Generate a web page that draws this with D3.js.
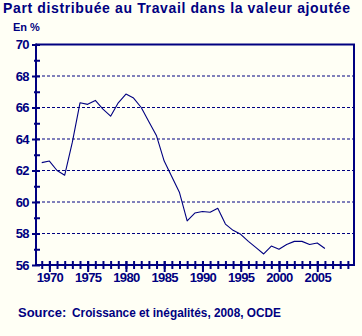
<!DOCTYPE html>
<html>
<head>
<meta charset="utf-8">
<script src="https://cdn.jsdelivr.net/npm/d3@7"></script>
<style>
  html, body { margin: 0; padding: 0; background: #fffff5; }
  svg { display: block; }
  text { font-family: "Liberation Sans", Arial, sans-serif; font-weight: bold; fill: #000080; }
</style>
</head>
<body>
<svg id="chart" width="362" height="336"></svg>
<script>
// Labour share of value added, in percent
const years = [1969, 1970, 1971, 1972, 1973, 1974, 1975, 1976, 1977, 1978,
               1979, 1980, 1981, 1982, 1983, 1984, 1985, 1986, 1987, 1988,
               1989, 1990, 1991, 1992, 1993, 1994, 1995, 1996, 1997, 1998,
               1999, 2000, 2001, 2002, 2003, 2004, 2005, 2006];
const share = [62.5, 62.6, 62.0, 61.7, 63.8, 66.3, 66.2, 66.45, 65.9, 65.45,
               66.3, 66.85, 66.6, 66.0, 65.1, 64.2, 62.6, 61.6, 60.6, 58.8,
               59.3, 59.4, 59.35, 59.6, 58.6, 58.2, 57.95, 57.5, 57.1, 56.7,
               57.2, 57.0, 57.3, 57.5, 57.5, 57.3, 57.4, 57.05];

const yMajorTicks = [56, 58, 60, 62, 64, 66, 68, 70];
const yMinorTicks = [57, 59, 61, 63, 65, 67, 69];
const yGridTicks = [58, 60, 62, 64, 66, 68];
const xLabelYears = [1970, 1975, 1980, 1985, 1990, 1995, 2000, 2005];
const xMinorYears = [1969, 1970, 1971, 1972, 1973, 1974, 1975, 1976, 1977, 1978,
                     1979, 1980, 1981, 1982, 1983, 1984, 1985, 1986, 1987, 1988,
                     1989, 1990, 1991, 1992, 1993, 1994, 1995, 1996, 1997, 1998,
                     1999, 2000, 2001, 2002, 2003, 2004, 2005, 2006, 2007, 2008, 2009];

const titleText = "Part distribuée au Travail dans la valeur ajoutée";
const unitText = "En %";
const sourceLabel = "Source:";
const sourceText = "Croissance et inégalités, 2008, OCDE";

const navy = "#000080";
const svg = d3.select("#chart");

svg.append("rect").attr("width", 362).attr("height", 336).attr("fill", "#fffff5");

const x = d3.scaleLinear().domain([1968.25, 2009.8]).range([36, 354]);
const y = d3.scaleLinear().domain([56, 70]).range([265, 44.5]);

// dotted horizontal gridlines
svg.append("g")
  .selectAll("line")
  .data(yGridTicks)
  .join("line")
  .attr("x1", x.range()[0] + 1)
  .attr("x2", x.range()[1] - 1)
  .attr("y1", d => y(d))
  .attr("y2", d => y(d))
  .attr("stroke", navy)
  .attr("stroke-width", 1)
  .attr("stroke-dasharray", "3,2");

// frame: top and right edges
svg.append("line")
  .attr("x1", x.range()[0]).attr("x2", x.range()[1] + 1)
  .attr("y1", y(70)).attr("y2", y(70))
  .attr("stroke", navy).attr("stroke-width", 2);
svg.append("line")
  .attr("x1", x.range()[1]).attr("x2", x.range()[1])
  .attr("y1", y(70)).attr("y2", y(56))
  .attr("stroke", navy).attr("stroke-width", 2);

function styleAxis(g) {
  g.select(".domain").remove();
  g.selectAll(".tick line").attr("stroke", navy).attr("stroke-width", 2);
  g.selectAll(".tick text")
    .attr("fill", navy)
    .style("font-family", "'Liberation Sans', Arial, sans-serif")
    .style("font-weight", "bold")
    .style("font-size", "13px")
    .style("letter-spacing", "-0.6px");
}

// y axis: labelled major ticks and short minor ticks
svg.append("g")
  .attr("transform", `translate(${x.range()[0] + 4},0)`)
  .call(d3.axisLeft(y).tickValues(yMajorTicks).tickSize(8).tickPadding(3).tickFormat(d3.format("d")))
  .call(styleAxis);
svg.append("g")
  .attr("transform", `translate(${x.range()[0] + 4},0)`)
  .call(d3.axisLeft(y).tickValues(yMinorTicks).tickSize(6).tickFormat(""))
  .call(styleAxis);

// x axis: yearly ticks, longer labelled ticks every five years
svg.append("g")
  .attr("transform", `translate(0,${y(56) - 4})`)
  .call(d3.axisBottom(x).tickValues(xMinorYears).tickSize(8).tickFormat(""))
  .call(styleAxis);
svg.append("g")
  .attr("transform", `translate(0,${y(56) - 4})`)
  .call(d3.axisBottom(x).tickValues(xLabelYears).tickSize(11).tickPadding(1).tickFormat(d3.format("d")))
  .call(styleAxis);

// axis lines
svg.append("line")
  .attr("x1", x.range()[0]).attr("x2", x.range()[0])
  .attr("y1", y(70) - 1).attr("y2", y(56) + 1)
  .attr("stroke", navy).attr("stroke-width", 2);
svg.append("line")
  .attr("x1", x.range()[0]).attr("x2", x.range()[1] + 1)
  .attr("y1", y(56)).attr("y2", y(56))
  .attr("stroke", navy).attr("stroke-width", 2);

// series line
const line = d3.line()
  .x((d, i) => x(years[i]))
  .y(d => y(d));
svg.append("path")
  .datum(share)
  .attr("d", line)
  .attr("fill", "none")
  .attr("stroke", navy)
  .attr("stroke-width", 1.1)
  .attr("stroke-linejoin", "round");

// titles and source
svg.append("text").attr("x", 3).attr("y", 13)
  .style("font-size", "14px")
  .attr("textLength", 347).attr("lengthAdjust", "spacing")
  .text(titleText);
svg.append("text").attr("x", 13).attr("y", 31).style("font-size", "11px").text(unitText);
svg.append("text").attr("x", 18).attr("y", 317).style("font-size", "13px").text(sourceLabel);
svg.append("text").attr("x", 72).attr("y", 317)
  .style("font-size", "13px")
  .attr("textLength", 209).attr("lengthAdjust", "spacingAndGlyphs")
  .text(sourceText);
</script>
</body>
</html>
